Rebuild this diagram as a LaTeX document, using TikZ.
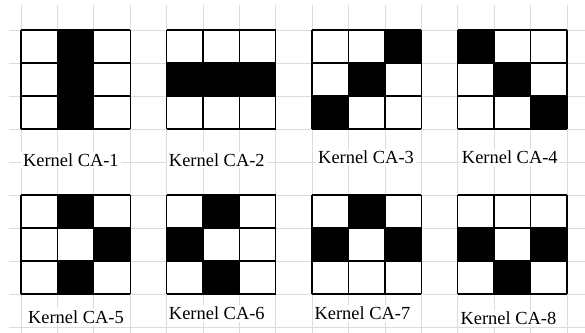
\documentclass[tikz,border=0pt]{standalone}
\usepackage{fontspec}
\setmainfont{Liberation Serif}
\usepackage{tikz}
\definecolor{sheetgray}{HTML}{DCDCDC}
\tikzset{
  sheetline/.style={sheetgray,line width=0.8pt},
  kgrid/.style={black,line width=1.4pt},
  kon/.style={fill=black},
  klabel/.style={fill=white,inner sep=2pt,font=\fontsize{18.5}{21}\selectfont}
}
\begin{document}
\begin{tikzpicture}[x=36.4bp,y=-33bp]
  \useasboundingbox (-0.577,-0.909) rectangle (15.495,9.182);
  \fill[white] (-0.577,-0.909) rectangle (15.495,9.182);
  % spreadsheet lines behind
  \foreach \gx in {0,...,15}
    \draw[sheetline] (\gx,-0.76) -- (\gx,9.182);
  \foreach \gy in {0,...,9}
    \draw[sheetline] (-0.33,\gy) -- (15.495,\gy);
  % kernels: corner col/row, then black cells as col/row
  \foreach \kx/\ky/\cells in {0/0/{1/0,1/1,1/2}, 4/0/{0/1,1/1,2/1},
      8/0/{2/0,1/1,0/2}, 12/0/{0/0,1/1,2/2}, 0/5/{1/0,2/1,1/2},
      4/5/{1/0,0/1,1/2}, 8/5/{1/0,0/1,2/1}, 12/5/{0/1,2/1,1/2}} {
    \foreach \c/\r in \cells
      \fill[kon] (\kx+\c,\ky+\r) rectangle ++(1,1);
    \foreach \i in {0,...,3} {
      \draw[kgrid] (\kx+\i,\ky) -- (\kx+\i,\ky+3);
      \draw[kgrid] (\kx,\ky+\i) -- (\kx+3,\ky+\i);
    }
  }
  % labels
  \node[klabel] (lab1) at (1.37,3.94) {Kernel CA-1};
  \node[klabel] (lab2) at (5.38,3.94) {Kernel CA-2};
  \node[klabel] (lab3) at (9.48,3.85) {Kernel CA-3};
  \node[klabel] (lab4) at (13.43,3.85) {Kernel CA-4};
  \node[klabel] (lab5) at (1.51,8.69) {Kernel CA-5};
  \node[klabel] (lab6) at (5.38,8.58) {Kernel CA-6};
  \node[klabel] (lab7) at (9.38,8.58) {Kernel CA-7};
  \node[klabel] (lab8) at (13.39,8.73) {Kernel CA-8};
\end{tikzpicture}
\end{document}
